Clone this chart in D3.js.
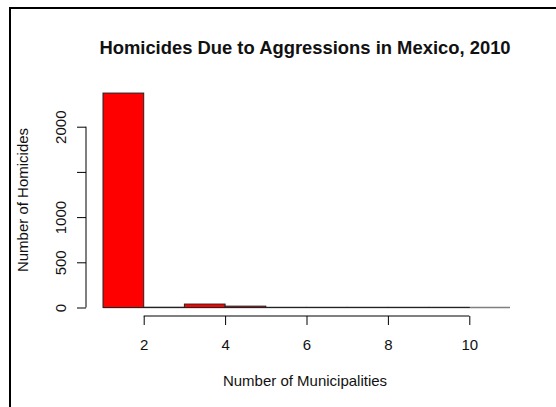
<!DOCTYPE html>
<html>
<head>
<meta charset="utf-8">
<script src="https://cdn.jsdelivr.net/npm/d3@7"></script>
<style>
  html, body { margin: 0; padding: 0; background: #fff; }
  svg { display: block; }
  text { font-family: "Liberation Sans", Arial, Helvetica, sans-serif; fill: #111; }
</style>
</head>
<body>
<script>
// Histogram bins: number of municipalities per record (bin start, bin end)
const binStarts = [1, 2, 3, 4, 5, 6, 7, 8, 9, 10];
const binEnds   = [2, 3, 4, 5, 6, 7, 8, 9, 10, 11];
// Number of homicides in each bin
const homicides = [2372, 2, 38, 15, 1, 1, 1, 1, 1, 0];

const xTicks = [2, 4, 6, 8, 10];
const yTicks = [0, 500, 1000, 1500, 2000];
const yTickLabels = ["0", "500", "1000", "", "2000"];

const titleText = "Homicides Due to Aggressions in Mexico, 2010";
const xTitle = "Number of Municipalities";
const yTitle = "Number of Homicides";

const W = 556, H = 407;
const svg = d3.select("body").append("svg").attr("width", W).attr("height", H);

// Frame
svg.append("path")
  .attr("d", `M10,${H} L10,8 L${W},8`)
  .attr("fill", "none").attr("stroke", "#000").attr("stroke-width", 2);

const x = d3.scaleLinear().domain([1, 11]).range([103, 510]);
const y = d3.scaleLinear().domain([0, 2000]).range([307.5, 126.7]);

// Baseline under the bins
svg.append("line")
  .attr("x1", x(1)).attr("x2", x(11))
  .attr("y1", y(0)).attr("y2", y(0))
  .attr("stroke", "#808080").attr("stroke-width", 1.5);

// Bars
const bins = binStarts.map((s, i) => ({ x0: s, x1: binEnds[i], v: homicides[i] }));
svg.append("g").selectAll("rect")
  .data(bins.filter(d => d.v > 0))
  .join("rect")
  .attr("x", d => x(d.x0))
  .attr("width", d => x(d.x1) - x(d.x0))
  .attr("y", d => y(d.v))
  .attr("height", d => y(0) - y(d.v))
  .attr("fill", "#ff0000")
  .attr("stroke", "#222")
  .attr("stroke-width", 1);

const tickFont = "15px";

// X axis
const xAxisY = 316;
const gx = svg.append("g").attr("transform", `translate(0,${xAxisY})`)
  .call(d3.axisBottom(x).tickValues(xTicks).tickFormat(d3.format("d")).tickSize(9).tickSizeOuter(0));
gx.select(".domain").remove();
gx.append("line")
  .attr("x1", x(xTicks[0])).attr("x2", x(xTicks[xTicks.length - 1]))
  .attr("stroke", "#000");
gx.selectAll(".tick line").attr("stroke", "#000");
gx.selectAll(".tick text")
  .attr("y", 34).attr("dy", 0)
  .style("font-size", tickFont)
  .style("font-family", "'Liberation Sans', Arial, sans-serif")
  .attr("fill", "#111");

// Y axis
const yAxisX = 86;
const gy = svg.append("g").attr("transform", `translate(${yAxisX},0)`)
  .call(d3.axisLeft(y).tickValues(yTicks).tickFormat((d, i) => yTickLabels[i]).tickSize(9).tickSizeOuter(0));
gy.select(".domain").remove();
gy.append("line")
  .attr("y1", y(yTicks[0])).attr("y2", y(yTicks[yTicks.length - 1]))
  .attr("stroke", "#000");
gy.selectAll(".tick line").attr("stroke", "#000");
gy.selectAll(".tick text")
  .attr("x", 0).attr("dy", 0)
  .attr("transform", "translate(-20,0) rotate(-90)")
  .attr("text-anchor", "middle")
  .style("font-size", tickFont)
  .style("font-family", "'Liberation Sans', Arial, sans-serif")
  .attr("fill", "#111");

// Titles
svg.append("text")
  .attr("x", 305).attr("y", 53.5)
  .attr("text-anchor", "middle")
  .style("font-size", "18.4px").style("font-weight", "bold")
  .attr("fill", "#000")
  .text(titleText);

svg.append("text")
  .attr("x", 305).attr("y", 386)
  .attr("text-anchor", "middle")
  .style("font-size", "15px")
  .text(xTitle);

svg.append("text")
  .attr("transform", "translate(28,200) rotate(-90)")
  .attr("text-anchor", "middle")
  .style("font-size", "15px")
  .text(yTitle);
</script>
</body>
</html>
